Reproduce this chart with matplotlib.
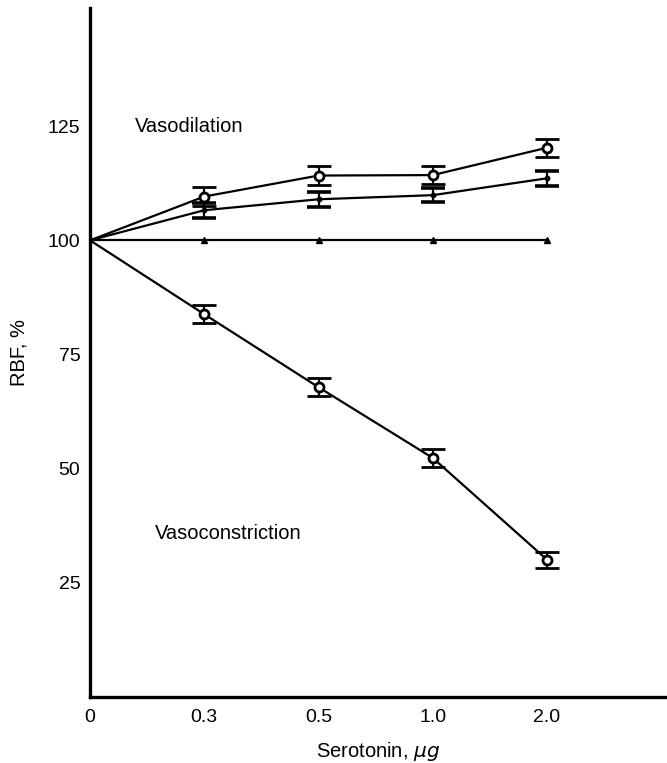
import numpy as np
import matplotlib
matplotlib.use("Agg")
import matplotlib.pyplot as plt

# ── Data ─────────────────────────────────────────────────────────────────────
doses = ["0", "0.3", "0.5", "1.0", "2.0"]

dil_open = [100, 109.6, 114.2, 114.3, 120.3]
dil_open_err = [0, 2.0, 2.0, 2.0, 2.0]

dil_dot = [100, 106.6, 109.0, 109.9, 113.6]
dil_dot_err = [0, 1.6, 1.6, 1.5, 1.6]

control = [100, 100, 100, 100, 100]

constr = [100, 83.8, 67.8, 52.3, 30.0]
constr_err = [0, 2.0, 2.0, 2.0, 1.8]

y_ticks = [25, 50, 75, 100, 125]

plt.rcParams["font.family"] = ["Liberation Sans", "DejaVu Sans"]

fig = plt.figure(figsize=(6.67, 7.63), dpi=100)
ax = fig.add_axes([0.135, 0.087, 0.865, 0.903])

x = np.arange(len(doses))
err_kw = dict(ecolor="black", elinewidth=1.6, capsize=8.5, capthick=2.6,
              color="black", lw=1.6, markevery=slice(1, None), errorevery=(1, 1))

ax.errorbar(x, dil_open, yerr=dil_open_err, marker="o", ms=6.5,
            mfc="white", mec="black", mew=2.0, zorder=4, **err_kw)
ax.errorbar(x, dil_dot, yerr=dil_dot_err, marker="o", ms=3.2,
            mfc="black", mec="black", zorder=3, **err_kw)
ax.errorbar(x, constr, yerr=constr_err, marker="o", ms=6.5,
            mfc="white", mec="black", mew=2.0, zorder=4, **err_kw)
ax.plot(x, control, color="black", lw=1.6, marker="^", ms=3.8,
        markevery=slice(1, None), zorder=2)

ax.text(0.39, 125, "Vasodilation", fontsize=14.5, va="center", ha="left")
ax.text(0.57, 35.7, "Vasoconstriction", fontsize=14.5, va="center", ha="left")

ax.set_xlim(0, 5.05)
ax.set_ylim(0, 151)
ax.set_xticks(x)
ax.set_xticklabels(doses)
ax.set_yticks(y_ticks)
ax.tick_params(axis="both", length=0, labelsize=14)
ax.tick_params(axis="x", pad=9)
ax.tick_params(axis="y", pad=7)

ax.set_xlabel(r"Serotonin, $\mu g$", fontsize=14.5, labelpad=10)
ax.set_ylabel("RBF, %", fontsize=14.5, labelpad=14)

for side in ("top", "right"):
    ax.spines[side].set_visible(False)
for side in ("left", "bottom"):
    ax.spines[side].set_linewidth(2.4)

fig.savefig("out.png", dpi=100)
